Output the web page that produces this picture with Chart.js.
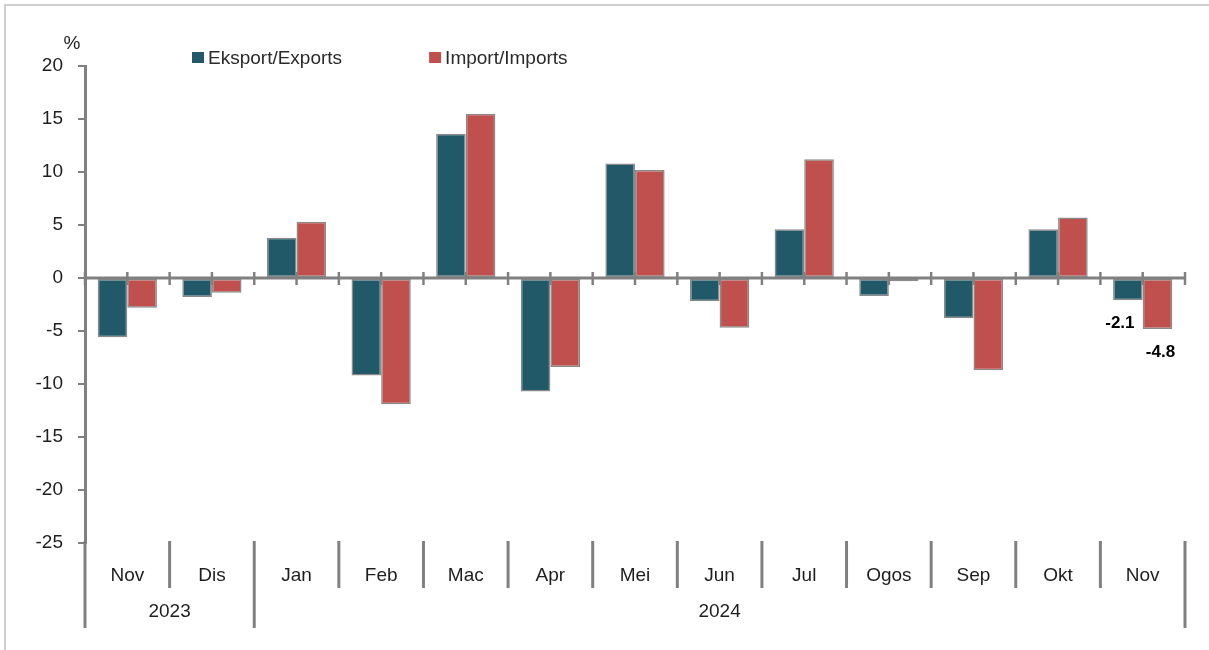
<!DOCTYPE html>
<html lang="ms">
<head>
<meta charset="UTF-8">
<title>Eksport / Import</title>
<script src="https://cdn.jsdelivr.net/npm/chart.js"></script>
<style>
  body { margin: 0; background: #fff; }
  .wrap { position: relative; width: 1209px; height: 650px; }
  .bingkai { position: absolute; left: 4px; top: 4px; right: 0; bottom: 0;
             border-top: 2px solid #cfcfcf; border-left: 2px solid #cfcfcf; pointer-events: none; }
</style>
</head>
<body>
<div class="wrap">
  <canvas id="carta" width="1209" height="650"></canvas>
  <div class="bingkai"></div>
</div>

<script>
// data (% perubahan)
var bulan = ['Nov', 'Dis', 'Jan', 'Feb', 'Mac', 'Apr', 'Mei', 'Jun', 'Jul', 'Ogos', 'Sep', 'Okt', 'Nov'];
var tahun = ['2023', '2024'];
var tahunMula = [0, 2];   // indeks bulan pertama bagi setiap tahun
var eksport = [-5.6, -1.8, 3.8, -9.2, 13.6, -10.7, 10.8, -2.2, 4.6, -1.7, -3.8, 4.6, -2.1];
var imports = [-2.8, -1.4, 5.3, -11.9, 15.5, -8.4, 10.2, -4.7, 11.2, -0.3, -8.7, 5.7, -4.8];
var yMin = -25, yMax = 20, yLangkah = 5;

var FONT = "'Liberation Sans Narrow', 'Arial Narrow', 'Liberation Sans', sans-serif";
var SAIZ = 19;
var KELABU = '#808080';
var TEKS = '#1e1e1e';

// garisan sifar, sempadan kategori, label tahun, label data, legend
var hiasan = {
    id: 'hiasan',
    afterDatasetsDraw: function (chart) {
        var ctx = chart.ctx, a = chart.chartArea;
        var x = chart.scales.x, y = chart.scales.y;
        var y0 = y.getPixelForValue(0);
        var sel = x.getPixelForValue(1) - x.getPixelForValue(0);
        ctx.save();
        ctx.strokeStyle = KELABU;
        ctx.lineWidth = 3;
        ctx.beginPath();
        ctx.moveTo(a.left, y0);
        ctx.lineTo(a.right + 1, y0);
        ctx.stroke();
        ctx.lineWidth = 2.5;
        for (var i = 0; i <= bulan.length * 2; i++) {
            var px = x.getPixelForValue(0) - sel / 2 + i * sel / 2;
            ctx.beginPath();
            ctx.moveTo(px, y0 - 6);
            ctx.lineTo(px, y0 + 7);
            ctx.stroke();
        }
        ctx.restore();
    },
    afterDraw: function (chart) {
        var ctx = chart.ctx, a = chart.chartArea;
        var x = chart.scales.x;
        var sel = x.getPixelForValue(1) - x.getPixelForValue(0);
        ctx.save();

        // garisan pemisah di bawah paksi
        ctx.strokeStyle = KELABU;
        ctx.lineWidth = 3;
        for (var i = 0; i <= bulan.length; i++) {
            var px = x.getPixelForValue(0) - sel / 2 + i * sel;
            var panjang = (tahunMula.indexOf(i) >= 0 || i === bulan.length) ? 85 : 45;
            ctx.beginPath();
            ctx.moveTo(px, a.bottom - 2);
            ctx.lineTo(px, a.bottom + panjang);
            ctx.stroke();
        }

        // label tahun
        ctx.fillStyle = TEKS;
        ctx.font = SAIZ + 'px ' + FONT;
        ctx.textAlign = 'center';
        ctx.textBaseline = 'middle';
        for (var t = 0; t < tahun.length; t++) {
            var mula = tahunMula[t];
            var akhir = (t + 1 < tahun.length ? tahunMula[t + 1] : bulan.length) - 1;
            var cx = (x.getPixelForValue(mula) + x.getPixelForValue(akhir)) / 2;
            ctx.fillText(tahun[t], cx, a.bottom + 69);
        }

        // unit paksi
        ctx.fillText('%', 72, 44);

        // label data bulan terakhir
        ctx.font = 'bold 17px ' + FONT;
        ctx.fillStyle = '#000';
        var n = bulan.length - 1;
        var geser = [-8, 3];
        chart.data.datasets.forEach(function (ds, d) {
            var bar = chart.getDatasetMeta(d).data[n];
            ctx.fillText(ds.data[n].toFixed(1), bar.x + geser[d], bar.y + 23);
        });

        // legend
        ctx.font = SAIZ + 'px ' + FONT;
        ctx.textAlign = 'left';
        var lx = 192;
        chart.data.datasets.forEach(function (ds) {
            ctx.fillStyle = ds.backgroundColor;
            ctx.fillRect(lx, 52, 12, 11);
            ctx.fillStyle = '#2a2a2a';
            ctx.fillText(ds.label, lx + 16, 59);
            lx += 16 + ctx.measureText(ds.label).width + 87;
        });
        ctx.restore();
    }
};

new Chart(document.getElementById('carta'), {
    type: 'bar',
    data: {
        labels: bulan,
        datasets: [
            {
                label: 'Eksport/Exports',
                data: eksport,
                backgroundColor: '#215968',
                borderColor: '#8a8a8a',
                borderWidth: 1.5,
                borderSkipped: false
            },
            {
                label: 'Import/Imports',
                data: imports,
                backgroundColor: '#c0504d',
                borderColor: '#8a8a8a',
                borderWidth: 1.5,
                borderSkipped: false
            }
        ]
    },
    options: {
        responsive: false,
        animation: false,
        layout: { padding: { top: 66, right: 24, bottom: 0, left: 0 } },
        datasets: { bar: { categoryPercentage: 0.7, barPercentage: 1.0 } },
        plugins: {
            legend: { display: false },
            tooltip: { enabled: false }
        },
        scales: {
            x: {
                grid: { display: false, drawTicks: false },
                border: { display: false },
                ticks: { color: TEKS, font: { family: FONT, size: SAIZ }, padding: 21, maxRotation: 0 },
                afterFit: function (s) { s.height = 107; }
            },
            y: {
                min: yMin,
                max: yMax,
                ticks: { stepSize: yLangkah, color: TEKS, font: { family: FONT, size: SAIZ }, padding: 15 },
                grid: { drawOnChartArea: false, tickLength: 7, color: KELABU, lineWidth: 2 },
                border: { display: true, color: KELABU, width: 3 },
                afterFit: function (s) { s.width = 85; }
            }
        }
    },
    plugins: [hiasan]
});
</script>
</body>
</html>
